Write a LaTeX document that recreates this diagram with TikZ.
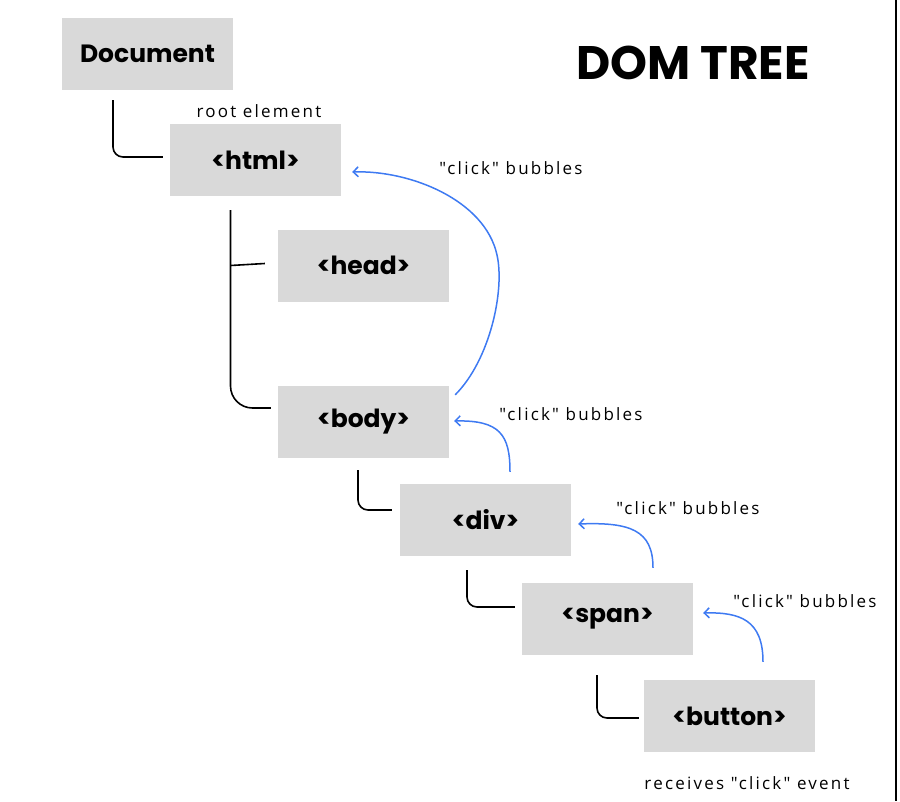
\documentclass[tikz,border=0pt]{standalone}
\usepackage{fontspec}
\setmainfont{Poppins}
\newfontfamily\handfont[LetterSpace=13]{Open Sans}
\usetikzlibrary{arrows.meta}
\definecolor{boxgray}{RGB}{217,217,217}
\definecolor{bubbleblue}{RGB}{62,122,242}

\begin{document}
\begin{tikzpicture}[x=1pt,y=-1pt,
  elem/.style={fill=boxgray,minimum width=171pt,minimum height=72pt,
    font=\bfseries\fontsize{25}{28}\selectfont},
  note/.style={font=\handfont\fontsize{17}{20}\selectfont,inner sep=0pt},
  tree/.style={draw=black,line width=1.6pt,rounded corners=10pt},
  bubble/.style={draw=bubbleblue,line width=1.5pt,-{Straight Barb[length=5pt,width=10pt]}}]
  \useasboundingbox (0,0) rectangle (900,801);

  \node[elem] (doc) at (147.5,54) {Document};
  \node[elem] (html) at (255.5,160) {<html>};
  \node[elem] (head) at (363.5,265.5) {<head>};
  \node[elem] (body) at (363.5,422) {<body>};
  \node[elem] (div) at (485.5,520) {<div>};
  \node[elem] (span) at (607.5,619) {<span>};
  \node[elem] (button) at (729.5,716) {<button>};

  \node[font=\bfseries\fontsize{47}{50}\selectfont] (title) at (693,63) {DOM TREE};

  \node[note] (root) at (259,111) {root element};
  \node[note] (bub1) at (511,168) {"click" bubbles};
  \node[note] (bub2) at (571,414) {"click" bubbles};
  \node[note] (bub3) at (688,508) {"click" bubbles};
  \node[note] (bub4) at (805,601) {"click" bubbles};
  \node[note] (event) at (747,783) {receives "click" event};

  % tree lines
  \draw[tree] ([xshift=-34.5pt,yshift=-10pt]doc.south) |- ([xshift=-7pt,yshift=3pt]html.west);
  \coordinate (trunk) at ([xshift=-25pt,yshift=-14pt]html.south);
  \draw[tree,rounded corners=22pt] (trunk) |- ([xshift=-7pt,yshift=14pt]body.west);
  \draw[tree] (trunk |- head.west) -- ([xshift=-13pt,yshift=2pt]head.west);
  \draw[tree] ([xshift=-5.5pt,yshift=-12pt]body.south) |- ([xshift=-8pt,yshift=10pt]div.west);
  \draw[tree] ([xshift=-18.5pt,yshift=-14pt]div.south) |- ([xshift=-7pt,yshift=12pt]span.west);
  \draw[tree] ([xshift=-10.5pt,yshift=-20pt]span.south) |- ([xshift=-5pt,yshift=-2pt]button.west);

  % bubbling
  \draw[bubble] ([xshift=6pt,yshift=-9pt]body.north east)
    .. controls (490,360) and (505,290) .. (497,255)
    .. controls (485,200) and (410,170) .. ([xshift=11pt,yshift=-12pt]html.east);
  \draw[bubble] ([xshift=24.5pt,yshift=12pt]div.north)
    .. controls (510,435) and (500,420) .. ([xshift=5pt,yshift=1pt]body.east);
  \draw[bubble] ([xshift=45.5pt,yshift=15pt]span.north)
    .. controls (653,530) and (630,522) .. ([xshift=7pt,yshift=-4pt]div.east);
  \draw[bubble] ([xshift=33.5pt,yshift=18pt]button.north)
    .. controls (763,620) and (740,612) .. ([xshift=10pt,yshift=6pt]span.east);

  \draw[line width=2.5pt] (896,0) -- (896,801);
\end{tikzpicture}
\end{document}
